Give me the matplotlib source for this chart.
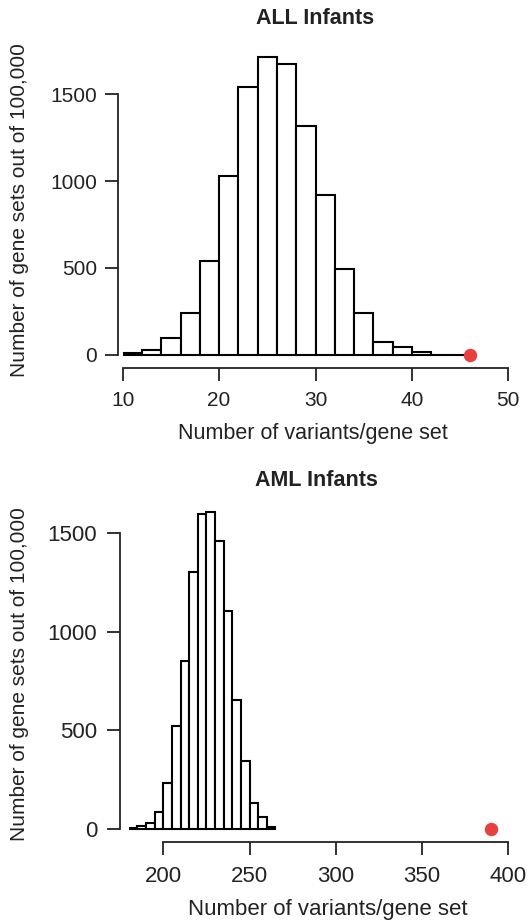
import matplotlib
matplotlib.use("Agg")
import matplotlib.pyplot as plt
import numpy as np

plt.rcParams['font.family'] = ['Liberation Sans', 'DejaVu Sans']

# ---- data: ALL infants ----
all_bin_edges = [10, 12, 14, 16, 18, 20, 22, 24, 26, 28, 30, 32, 34, 36, 38, 40, 42, 44, 46]
all_counts = [7, 25, 98, 238, 542, 1031, 1540, 1713, 1677, 1319, 921, 494, 238, 73, 42, 14, 0, 0]
all_observed = 46
all_xticks = [10, 20, 30, 40, 50]
all_yticks = [0, 500, 1000, 1500]

# ---- data: AML infants ----
aml_bin_edges = [180, 185, 190, 195, 200, 205, 210, 215, 220, 225, 230, 235, 240, 245, 250, 255, 260, 265]
aml_counts = [5, 17, 34, 89, 236, 522, 852, 1300, 1593, 1604, 1456, 1103, 653, 343, 131, 64, 13]
aml_observed = 390
aml_xticks = [200, 250, 300, 350, 400]
aml_yticks = [0, 500, 1000, 1500]

titles = ["ALL Infants", "AML Infants"]
xlabel = "Number of variants/gene set"
ylabel = "Number of gene sets out of 100,000"

W, H = 528, 923
fig = plt.figure(figsize=(W / 100, H / 100), dpi=100)
fig.patch.set_facecolor('white')

TXT = '#222222'
DOT = '#E8403F'
px2pt = 72 / 100


def px_axes(l, t, r, b):
    return [l / W, 1 - b / H, (r - l) / W, (b - t) / H]


def style(ax, xticks, yticks, left_out, bottom_out, tick_fs, xpad, ypad):
    for s in ['top', 'right']:
        ax.spines[s].set_visible(False)
    ax.spines['left'].set_position(('outward', left_out * px2pt))
    ax.spines['bottom'].set_position(('outward', bottom_out * px2pt))
    ax.spines['left'].set_bounds(yticks[0], yticks[-1])
    ax.spines['bottom'].set_bounds(xticks[0], xticks[-1])
    for s in ['left', 'bottom']:
        ax.spines[s].set_linewidth(1.3)
        ax.spines[s].set_color(TXT)
    ax.set_xticks(xticks)
    ax.set_yticks(yticks)
    ax.tick_params(axis='both', length=13 * px2pt, width=1.3, color=TXT,
                   labelsize=tick_fs, labelcolor=TXT)
    ax.tick_params(axis='x', pad=xpad)
    ax.tick_params(axis='y', pad=ypad)
    ax.set_facecolor('none')


def hist(ax, edges, counts):
    for i in range(len(counts)):
        ax.bar(edges[i], counts[i], width=edges[i + 1] - edges[i],
               align='edge', facecolor='white', edgecolor='black', linewidth=1.5)


# ---------- top panel ----------
ax1 = fig.add_axes(px_axes(122.7, 42.2, 508.3, 359.9))
ax1.set_xlim(10, 50)
ax1.set_ylim(-30, 1800)
hist(ax1, all_bin_edges, all_counts)
ax1.plot([all_observed], [0], 'o', color=DOT, markersize=12 * px2pt, clip_on=False, zorder=5)
style(ax1, all_xticks, all_yticks, 4.4, 8.4, 15, 7, 6)
fig.text(313 / W, 1 - 433 / H, xlabel, ha='center', va='center', fontsize=15.5, color=TXT)
fig.text(315 / W, 1 - 18 / H, titles[0], ha='center', va='center',
         fontsize=15.5, fontweight='bold', color=TXT)
fig.text(20 / W, 1 - 210 / H, ylabel, ha='center', va='center', rotation=90,
         fontsize=15, color=TXT)

# ---------- bottom panel ----------
ax2 = fig.add_axes(px_axes(128.8, 493.2, 508.3, 835.2))
ax2.set_xlim(180, 400)
ax2.set_ylim(-30, 1700)
hist(ax2, aml_bin_edges, aml_counts)
ax2.plot([aml_observed], [0], 'o', color=DOT, markersize=12 * px2pt, clip_on=False, zorder=5)
style(ax2, aml_xticks, aml_yticks, 8.8, 7.1, 16, 8, 7)
fig.text(328 / W, 1 - 910 / H, xlabel, ha='center', va='center', fontsize=16, color=TXT)
fig.text(316 / W, 1 - 481 / H, titles[1], ha='center', va='center',
         fontsize=15.5, fontweight='bold', color=TXT)
fig.text(20 / W, 1 - 674 / H, ylabel, ha='center', va='center', rotation=90,
         fontsize=15, color=TXT)

fig.savefig('out.png', dpi=100, facecolor='white')
